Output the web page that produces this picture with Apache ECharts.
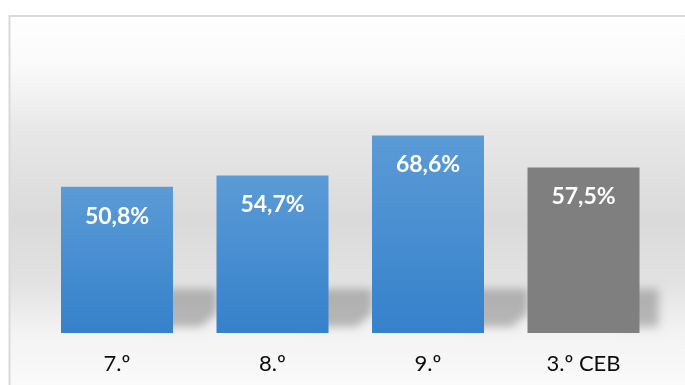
<!DOCTYPE html>
<html>
<head>
<meta charset="utf-8">
<script src="https://cdn.jsdelivr.net/npm/echarts@6/dist/echarts.min.js"></script>
<style>
html,body{margin:0;padding:0;background:#ffffff;}
#chart{width:685px;height:385px;}
</style>
</head>
<body>
<div id="chart"></div>
<script>
const categories = ['7.º', '8.º', '9.º', '3.º CEB'];
const values = [50.8, 54.7, 68.6, 57.5];

const chart = echarts.init(document.getElementById('chart'), null, {renderer: 'canvas'});

const BAR_W = 112;
const OFF = 3000;
const blueGrad = new echarts.graphic.LinearGradient(0, 0, 0, 1, [
  {offset: 0, color: '#5b9bd6'},
  {offset: 1, color: '#3581cb'}
]);

const option = {
  animation: false,
  backgroundColor: '#ffffff',
  graphic: [{
    type: 'rect',
    z: -10,
    silent: true,
    shape: {x: 9.5, y: 16, width: 700, height: 390},
    style: {
      stroke: '#d9d9d9',
      lineWidth: 2,
      fill: new echarts.graphic.LinearGradient(0, 0, 0, 1, [
        {offset: 0.00, color: '#ffffff'},
        {offset: 0.14, color: '#f9f9f9'},
        {offset: 0.29, color: '#e8e8e8'},
        {offset: 0.52, color: '#dadada'},
        {offset: 0.68, color: '#e2e2e2'},
        {offset: 0.81, color: '#f3f3f3'},
        {offset: 1.00, color: '#fdfdfd'}
      ])
    }
  }],
  grid: {left: 39.25, right: 23.75, top: 102.6, bottom: 52, containLabel: false},
  xAxis: {
    type: 'category',
    data: categories,
    axisLine: {show: false},
    axisTick: {show: false},
    axisLabel: {
      margin: 20,
      color: '#0d0d0d',
      fontFamily: 'Lato',
      fontSize: 22
    }
  },
  yAxis: {
    type: 'value',
    min: 0,
    max: 80,
    show: false,
    splitLine: {show: false}
  },
  series: [
    {
      type: 'custom',
      z: 1,
      silent: true,
      data: values.map((v, i) => [i, v]),
      renderItem: function (params, api) {
        const base = api.coord([api.value(0), 0]);
        const x1 = base[0] + BAR_W / 2;
        const y0 = base[1];
        const limit = params.coordSys.x + params.coordSys.width;
        const xr = Math.min(x1 + 44, limit - 2);
        const top = y0 - 44;
        return {
          type: 'polygon',
          shape: {points: [
            [x1 - 20 - OFF, top],
            [xr - OFF, top],
            [xr - OFF, y0 - 20],
            [Math.min(x1 + 28, xr) - OFF, y0 - 6],
            [x1 - 20 - OFF, y0 - 6]
          ]},
          style: {
            fill: '#000000',
            shadowBlur: 9,
            shadowOffsetX: OFF,
            shadowColor: 'rgba(0,0,0,0.24)'
          }
        };
      }
    },
    {
      type: 'bar',
      z: 2,
      data: values,
      barWidth: BAR_W,
      itemStyle: {
        color: function (p) {
          return p.dataIndex === categories.length - 1 ? '#7f7f7f' : blueGrad;
        }
      },
      label: {
        show: true,
        position: 'insideTop',
        distance: 18,
        color: '#ffffff',
        fontFamily: 'Lato',
        fontWeight: 'bold',
        fontSize: 23,
        formatter: function (p) {
          return p.value.toFixed(1).replace('.', ',') + '%';
        }
      }
    }
  ]
};
chart.setOption(option);
</script>
</body>
</html>
